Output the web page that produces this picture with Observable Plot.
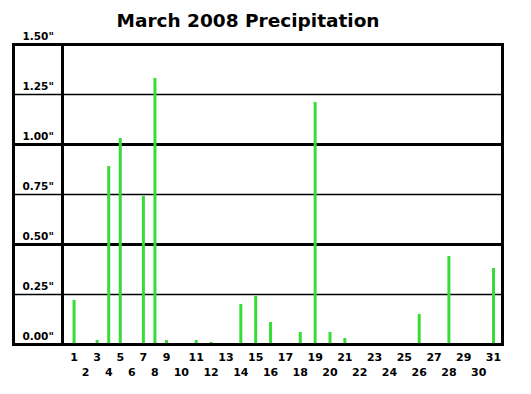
<!DOCTYPE html>
<html>
<head>
<meta charset="utf-8">
<script src="https://cdn.jsdelivr.net/npm/d3@7"></script>
<script src="https://cdn.jsdelivr.net/npm/@observablehq/plot@0.6"></script>
<style>
  html, body { margin: 0; padding: 0; background: #fff; }
  #chart svg { display: block; }
</style>
</head>
<body>
<div id="chart"></div>
<script>
const title = "March 2008 Precipitation";
const days = d3.range(1, 32);
const precip = [0.22, 0, 0.02, 0.89, 1.03, 0, 0.74, 1.33, 0.02, 0, 0.02, 0.01, 0, 0.20, 0.24, 0.11,
                0, 0.06, 1.21, 0.06, 0.03, 0, 0, 0, 0, 0.15, 0, 0.44, 0, 0, 0.38];
const yTicks = [0, 0.25, 0.5, 0.75, 1.0, 1.25, 1.5];
const yTickLabels = ['0.00"', '0.25"', '0.50"', '0.75"', '1.00"', '1.25"', '1.50"'];

const data = days.map((d, i) => ({day: d, value: precip[i]})).filter(d => d.value > 0);
const font = "DejaVu Sans, sans-serif";

const chart = Plot.plot({
  width: 531,
  height: 394,
  marginLeft: 13,
  marginRight: 29,
  marginTop: 44,
  marginBottom: 50,
  style: {fontFamily: font, background: "#fff"},
  x: {type: "linear", domain: [0, 9, 31], range: [62, 166, 493], axis: null},
  y: {domain: [0, 1.5], axis: null},
  marks: [
    Plot.ruleY(yTicks.filter(t => t % 0.5 !== 0), {y: d => d, stroke: "#000", strokeWidth: 1.5}),
    Plot.ruleY(yTicks.filter(t => t % 0.5 === 0), {y: d => d, stroke: "#000", strokeWidth: 3}),
    Plot.ruleX([0], {stroke: "#000", strokeWidth: 3}),
    Plot.ruleX(data, {x: "day", y1: 0, y2: "value", stroke: "#36dd36", strokeWidth: 3}),
    Plot.frame({stroke: "#000", strokeWidth: 3}),
    Plot.text([title], {frameAnchor: "top", dx: -10, dy: -31, fontSize: 18.5, fontWeight: "bold", fill: "#000"}),
    Plot.text(yTicks, {y: d => d, text: (d, i) => yTickLabels[i], frameAnchor: "left", textAnchor: "start",
      dx: 9, dy: -8, fontSize: 10.5, fontWeight: "bold", fill: "#000"}),
    Plot.text(days.filter(d => d % 2 === 1), {x: d => d, text: d => String(d), frameAnchor: "bottom",
      dy: 16, fontSize: 11, fontWeight: "bold", fill: "#000"}),
    Plot.text(days.filter(d => d % 2 === 0), {x: d => d, text: d => String(d), frameAnchor: "bottom",
      dy: 31, fontSize: 11, fontWeight: "bold", fill: "#000"})
  ]
});
document.getElementById("chart").appendChild(chart);
</script>
</body>
</html>
